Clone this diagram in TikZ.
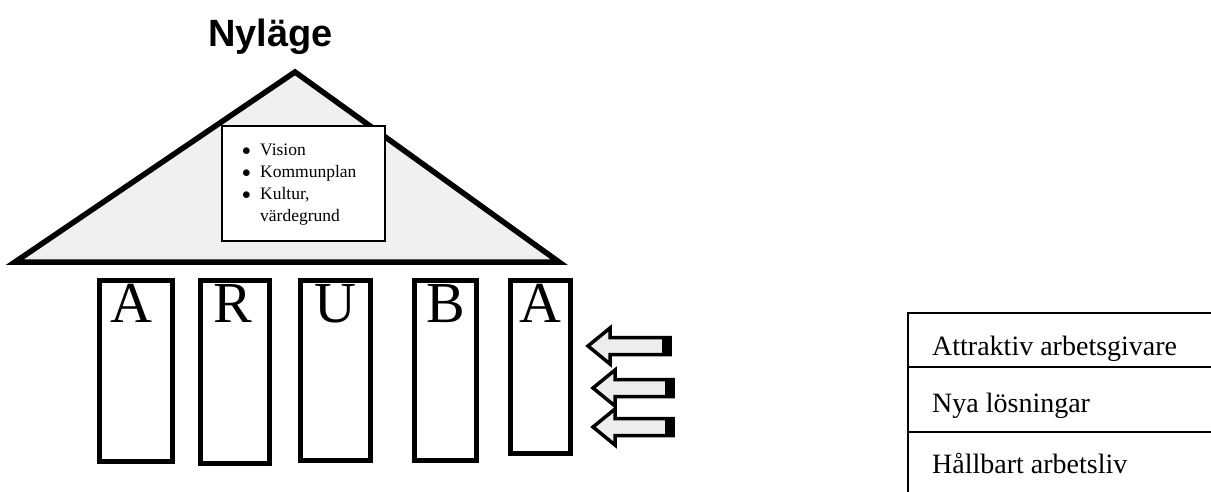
\documentclass[tikz,border=0pt]{standalone}
\usepackage{fontspec}
\setmainfont{Liberation Serif}
\newfontfamily\headfont{Liberation Sans}
\begin{document}
\begin{tikzpicture}[x=1pt,y=-1pt,
  pillar/.style={draw, line width=5pt, fill=white, inner sep=0pt},
  letter/.style={font=\fontsize{58}{58}\selectfont, inner sep=0pt, anchor=base},
  boxtxt/.style={font=\fontsize{17.5}{19}\selectfont, inner sep=0pt, anchor=base west},
  tabtxt/.style={font=\fontsize{28}{30}\selectfont, inner sep=0pt, anchor=base west},
  arrowshape/.style={draw, line width=3.5pt, fill=black!7, line join=miter},
  thin/.style={line width=2pt}]
\useasboundingbox (0,0) rectangle (1211,492);
% title
\node[font=\headfont\bfseries\fontsize{38}{40}\selectfont, inner sep=0pt, anchor=base west] (title) at (208,47) {Nyläge};
% roof
\coordinate (apex) at (295,72);
\coordinate (bl) at (15,262);
\coordinate (br) at (559,262);
\draw[line width=5.5pt, fill=black!6, line join=miter] (apex) -- (br) -- (bl) -- cycle;
% box in roof
\node[draw, thin, fill=white, minimum width=163pt, minimum height=115pt, inner sep=0pt] (vbox) at (303.5,183.5) {};
\node[boxtxt] (b1) at (242,156) {$\bullet$};
\node[boxtxt] (t1) at (260,156) {Vision};
\node[boxtxt] (b2) at (242,178) {$\bullet$};
\node[boxtxt] (t2) at (260,178) {Kommunplan};
\node[boxtxt] (b3) at (242,200) {$\bullet$};
\node[boxtxt] (t3) at (260,200) {Kultur,};
\node[boxtxt] (t4) at (260,222) {värdegrund};
% pillars
\node[pillar, minimum width=73pt, minimum height=181pt] (p1) at (135.5,370.5) {};
\node[pillar, minimum width=69pt, minimum height=183pt] (p2) at (234.5,371.5) {};
\node[pillar, minimum width=70pt, minimum height=180pt] (p3) at (335,370) {};
\node[pillar, minimum width=62pt, minimum height=180pt] (p4) at (445,370) {};
\node[pillar, minimum width=60pt, minimum height=173pt] (p5) at (540,366.5) {};
\node[letter] (l1) at (131,322) {A};
\node[letter] (l2) at (233,322) {R};
\node[letter] (l3) at (335,322) {U};
\node[letter] (l4) at (446,322) {B};
\node[letter] (l5) at (540,322) {A};
% arrows
\foreach \n/\tx/\ty/\ex in {1/588/346/670, 2/593/388/673, 3/593/427/673}{
  \draw[arrowshape] (\tx,\ty) -- (\tx+22,\ty-18) -- (\tx+22,\ty-8.5) -- (\ex,\ty-8.5)
     -- (\ex,\ty+8.5) -- (\tx+22,\ty+8.5) -- (\tx+22,\ty+18) -- cycle;
  \fill (\ex-8,\ty-10) rectangle (\ex,\ty+10);
}
% table
\coordinate (tl) at (908,313);
\coordinate (tr) at (1211,313);
\coordinate (bb) at (908,492);
\draw[thin] (bb) -- (tl) -- (tr);
\draw[thin] (908,367) -- (1211,367);
\draw[thin] (908,432) -- (1211,432);
\node[tabtxt] (r1) at (932,355) {Attraktiv arbetsgivare};
\node[tabtxt] (r2) at (932,412) {Nya lösningar};
\node[tabtxt] (r3) at (932,473) {Hållbart arbetsliv};
\end{tikzpicture}
\end{document}
